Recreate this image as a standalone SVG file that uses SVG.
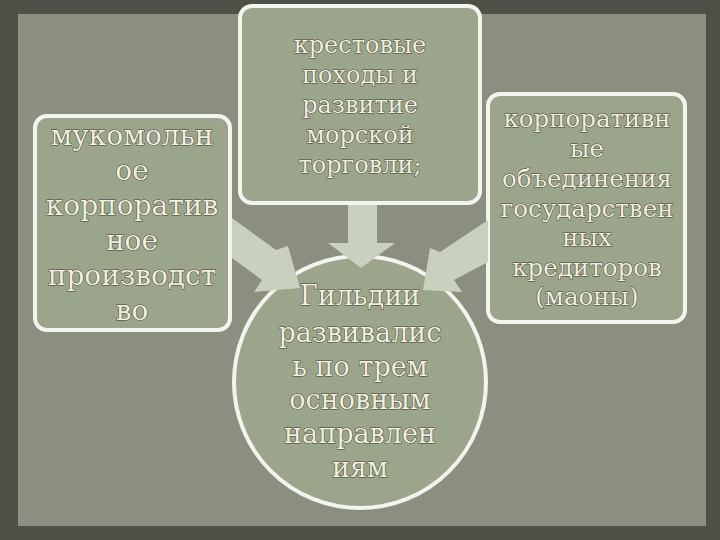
<svg xmlns="http://www.w3.org/2000/svg" width="720" height="540" viewBox="0 0 720 540">
<style>
.box{fill:#9aa58b;stroke:#f4f4ee;stroke-width:4}
.arr{fill:#c9d0bd}
text{font-family:"DejaVu Serif","Liberation Serif",serif;fill:#f1efdf;stroke:#3c3d33;stroke-width:1;paint-order:stroke;text-anchor:middle}
</style>
<rect width="720" height="540" fill="#4d5047"/>
<rect x="18" y="14" width="688" height="512" fill="#8a8f80"/>
<g id="left"><rect class="box" x="35" y="116" width="195" height="214" rx="12"/>
<g font-size="28"><text x="132" y="145">мукомольн</text><text x="132" y="180">ое</text><text x="132" y="215">корпоратив</text><text x="132" y="250">ное</text><text x="132" y="285">производст</text><text x="132" y="320">во</text></g></g>
<g id="top"><rect class="box" x="240" y="6" width="240" height="197" rx="12"/>
<g font-size="24"><text x="360" y="53">крестовые</text><text x="360" y="83">походы и</text><text x="360" y="113">развитие</text><text x="360" y="143">морской</text><text x="360" y="173">торговли;</text></g></g>
<g id="right"><rect class="box" x="488" y="94" width="197" height="228" rx="12"/>
<g font-size="24.5"><text x="587" y="127">корпоративн</text><text x="587" y="157">ые</text><text x="587" y="187">объединения</text><text x="587" y="217">государствен</text><text x="587" y="246">ных</text><text x="587" y="276">кредиторов</text><text x="587" y="305">(маоны)</text></g></g>
<g id="center"><circle class="box" cx="360" cy="382" r="126"/>
<g font-size="27"><text x="360" y="305">Гильдии</text><text x="360" y="342">развивалис</text><text x="360" y="376">ь по трем</text><text x="360" y="409">основным</text><text x="360" y="443">направлен</text><text x="360" y="477">иям</text></g></g>
<g id="connectors">
<path class="arr" d="M232,218 L276,250 L288,246 L300,288 L254,292 L262,280 L232,258 Z"/>
<path class="arr" d="M348,205 L377,205 L377,243 L395,243 L361,268 L328,243 L348,243 Z"/>
<path class="arr" d="M488,220 L440,252 L430,248 L423,290 L462,292 L454,280 L488,262 Z"/>
</g>
</svg>
